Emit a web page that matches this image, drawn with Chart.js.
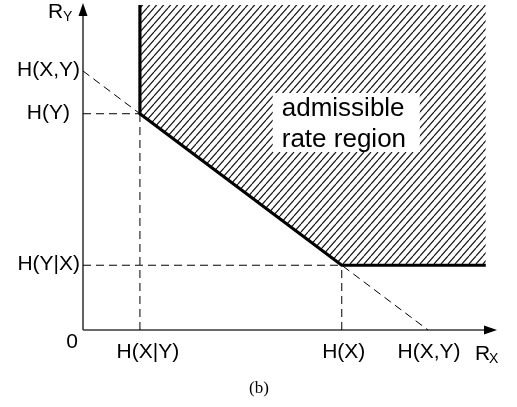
<!DOCTYPE html>
<html>
<head>
<meta charset="utf-8">
<script src="https://cdn.jsdelivr.net/npm/chart.js@4/dist/chart.umd.min.js"></script>
<style>
  html,body{margin:0;padding:0;background:#fff;}
  canvas{display:block;}
</style>
</head>
<body>
<canvas id="c" width="517" height="407"></canvas>
<script>
// ---- data (entropy values, arbitrary units) ----
const entropyNames = ["H(X|Y)", "H(X)", "H(X,Y)", "H(Y|X)", "H(Y)"];
const entropyValues = [0.66, 3.0, 4.0, 1.0, 3.34];
const xTickValues = [0.66, 3.0, 4.0];
const xTickLabels = ["H(X|Y)", "H(X)", "H(X,Y)"];
const yTickValues = [1.0, 3.34, 4.0];
const yTickLabels = ["H(Y|X)", "H(Y)", "H(X,Y)"];
const regionTop = 5.02;
const regionRight = 4.67;
const axisLabels = ["R", "X", "R", "Y"];
const regionText = ["admissible", "rate region"];
const captionText = "(b)";

const HXgY = entropyValues[0], HX = entropyValues[1], HXY = entropyValues[2], HYgX = entropyValues[3], HY = entropyValues[4];

// boundary of admissible region
const boundary = [
  {x: HXgY, y: regionTop},
  {x: HXgY, y: HY},
  {x: HX, y: HYgX},
  {x: regionRight, y: HYgX}
];

// hatch pattern
function makeHatch(){
  const w = 7, h = 8;
  const c = document.createElement('canvas');
  c.width = w; c.height = h;
  const g = c.getContext('2d');
  g.strokeStyle = '#1a1a1a';
  g.lineWidth = 1.2;
  g.beginPath();
  for (let k = -1; k <= 1; k++) {
    g.moveTo(k*w, h);
    g.lineTo(k*w + w, 0);
  }
  g.stroke();
  return document.getElementById('c').getContext('2d').createPattern(c, 'repeat');
}

const dash = [8, 5];
const dashStyle = {borderColor: '#000', borderWidth: 1, borderDash: dash, pointRadius: 0, fill: false, tension: 0};

const datasets = [
  Object.assign({data: boundary, borderColor: '#000', borderWidth: 3.2, backgroundColor: makeHatch(),
    fill: {value: regionTop}, pointRadius: 0, tension: 0, order: 0, borderJoinStyle: 'miter'}),
  Object.assign({}, dashStyle, {data: [{x: 0, y: HXY}, {x: HXY, y: 0}], order: 5}),
  Object.assign({}, dashStyle, {data: [{x: 0, y: HY}, {x: HXgY, y: HY}], order: 5}),
  Object.assign({}, dashStyle, {data: [{x: 0, y: HYgX}, {x: HX, y: HYgX}], order: 5}),
  Object.assign({}, dashStyle, {data: [{x: HXgY, y: 0}, {x: HXgY, y: HY}], order: 5}),
  Object.assign({}, dashStyle, {data: [{x: HX, y: 0}, {x: HX, y: HYgX}], order: 5})
];

const sans = '"Liberation Sans", Arial, sans-serif';

const decor = {
  id: 'decor',
  beforeDatasetsDraw(chart){
    const ctx = chart.ctx, xs = chart.scales.x, ys = chart.scales.y;
    const x0 = xs.getPixelForValue(0), y0 = ys.getPixelForValue(0);
    const xEnd = xs.right, yEnd = ys.top;
    ctx.save();
    ctx.strokeStyle = '#3a3a3a';
    ctx.lineWidth = 1.6;
    ctx.beginPath();
    ctx.moveTo(x0, y0); ctx.lineTo(x0, yEnd + 8);
    ctx.moveTo(x0, y0); ctx.lineTo(xEnd - 8, y0);
    ctx.stroke();
    ctx.fillStyle = '#000';
    // y arrow
    ctx.beginPath();
    ctx.moveTo(x0, yEnd); ctx.lineTo(x0 - 4.5, yEnd + 13); ctx.lineTo(x0 + 4.5, yEnd + 13); ctx.closePath(); ctx.fill();
    // x arrow
    ctx.beginPath();
    ctx.moveTo(xEnd, y0); ctx.lineTo(xEnd - 13, y0 - 4.5); ctx.lineTo(xEnd - 13, y0 + 4.5); ctx.closePath(); ctx.fill();
    ctx.restore();
  },
  afterDatasetsDraw(chart){
    const ctx = chart.ctx, xs = chart.scales.x, ys = chart.scales.y;
    const x0 = xs.getPixelForValue(0), y0 = ys.getPixelForValue(0);
    ctx.save();
    ctx.fillStyle = '#000';
    ctx.font = '21px ' + sans;
    ctx.textBaseline = 'middle';
    // y tick labels
    const yOff = {"H(Y)": -10};
    ctx.textAlign = 'right';
    yTickValues.forEach((v, i) => {
      const lab = yTickLabels[i];
      ctx.fillText(lab, x0 - 3 + (yOff[lab] || 0), ys.getPixelForValue(v) - 1);
    });
    // x tick labels
    const xOff = {"H(X|Y)": 8, "H(X)": 2, "H(X,Y)": 1};
    ctx.textAlign = 'center';
    xTickValues.forEach((v, i) => {
      const lab = xTickLabels[i];
      ctx.fillText(lab, xs.getPixelForValue(v) + (xOff[lab] || 0), y0 + 22);
    });
    // origin
    ctx.fillText('0', x0 - 11, y0 + 12);
    // axis names
    ctx.textAlign = 'left';
    ctx.textBaseline = 'alphabetic';
    ctx.font = '21px ' + sans;
    ctx.fillText(axisLabels[0], xs.right - 22, y0 + 30);
    ctx.font = '14px ' + sans;
    ctx.fillText(axisLabels[1], xs.right - 8, y0 + 33);
    ctx.font = '21px ' + sans;
    ctx.fillText(axisLabels[2], x0 - 35, 18);
    ctx.font = '14px ' + sans;
    ctx.fillText(axisLabels[3], x0 - 20, 21);
    // region annotation box
    const bx = xs.getPixelForValue(2.2), by = ys.getPixelForValue(3.66);
    ctx.fillStyle = '#fff';
    ctx.fillRect(bx, by, 147, 59);
    ctx.fillStyle = '#000';
    ctx.font = '26px ' + sans;
    ctx.fillText(regionText[0], bx + 9, by + 23);
    ctx.fillText(regionText[1], bx + 9, by + 54);
    // caption
    ctx.font = '17px "Liberation Serif", "DejaVu Serif", serif';
    ctx.textAlign = 'center';
    ctx.fillText(captionText, 259, 393);
    ctx.restore();
  }
};

new Chart(document.getElementById('c'), {
  type: 'line',
  data: {datasets},
  options: {
    responsive: false,
    devicePixelRatio: 1,
    animation: false,
    layout: {padding: {left: 83, right: 20, top: 3, bottom: 77}},
    plugins: {legend: {display: false}, tooltip: {enabled: false}},
    scales: {
      x: {type: 'linear', min: 0, max: 4.8, display: false},
      y: {type: 'linear', min: 0, max: 5.05, display: false}
    }
  },
  plugins: [decor]
});
</script>
</body>
</html>
